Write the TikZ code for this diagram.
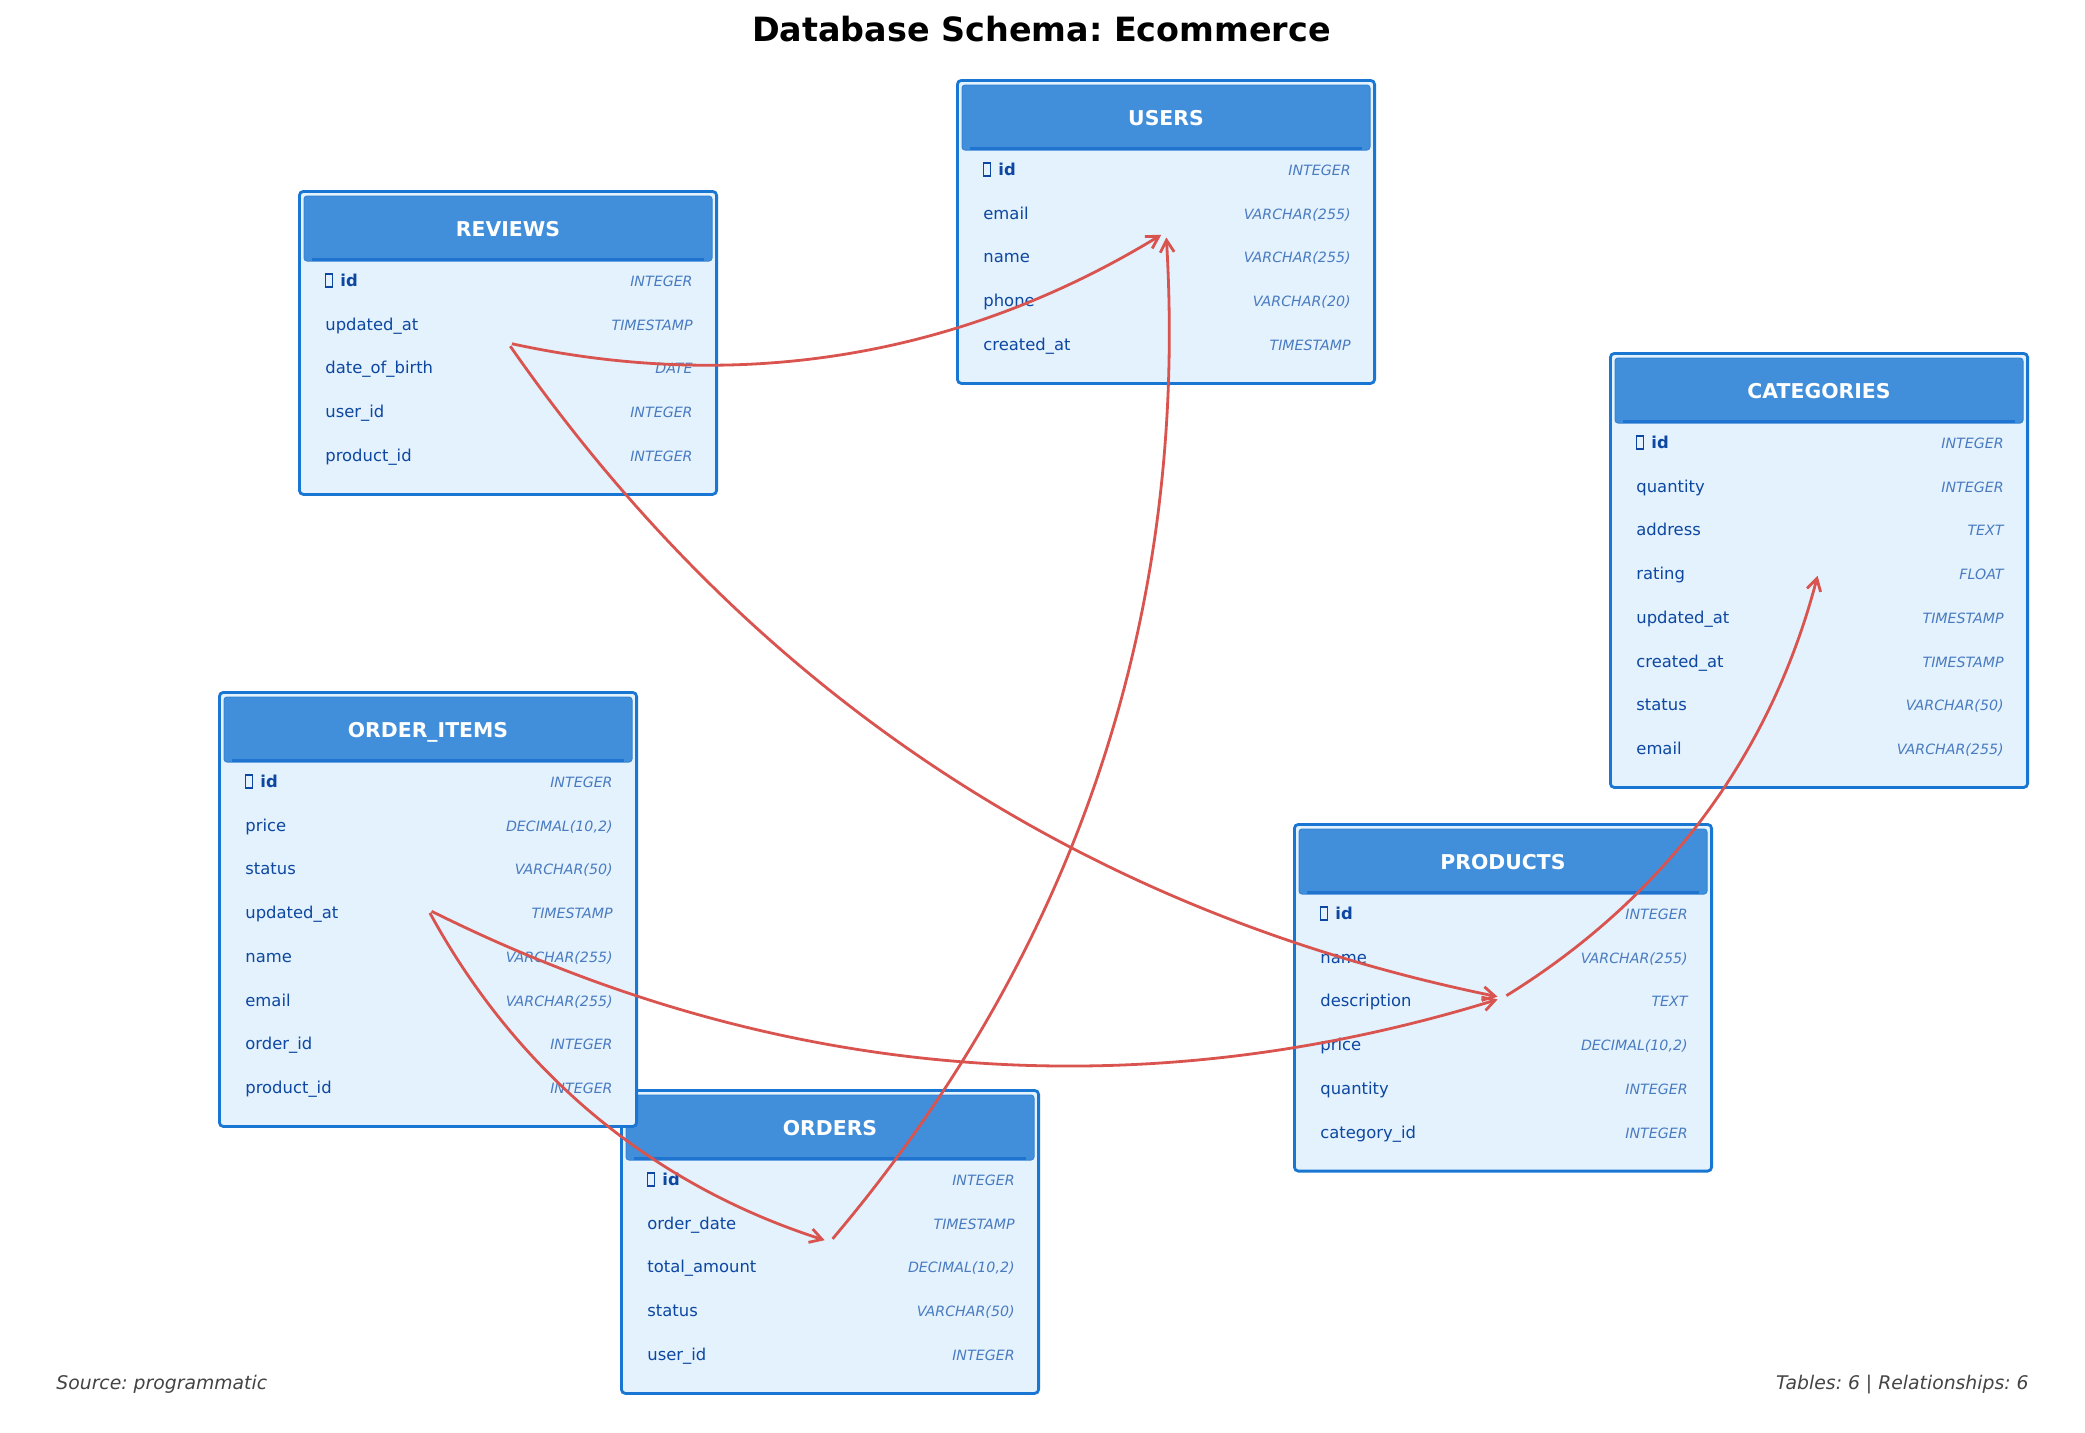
\documentclass[tikz,border=0pt]{standalone}
\usepackage{fontspec}
\setmainfont{DejaVu Sans}
\usetikzlibrary{arrows.meta,calc}
\frenchspacing
\definecolor{tabborder}{HTML}{1976D2}
\definecolor{tabfill}{HTML}{E3F2FD}
\definecolor{hdcol}{HTML}{418FDA}
\definecolor{hdedge}{HTML}{3584D6}
\definecolor{hdline}{HTML}{1F74CF}
\definecolor{fieldcol}{HTML}{0D47A1}
\definecolor{typecol}{HTML}{4A7BC0}
\definecolor{relcol}{HTML}{D9534F}
\definecolor{footcol}{HTML}{444444}
\tikzset{
  tablebox/.style={draw=tabborder, fill=tabfill, line width=1.4pt, rounded corners=2pt,
    minimum width=208.6pt, inner sep=0pt},
  headrect/.style={fill=hdcol, draw=hdedge, line width=0.5pt, rounded corners=1.5pt},
  headline/.style={draw=hdline, line width=1.2pt},
  headtext/.style={text=white, font=\fontsize{10.2pt}{12pt}\selectfont\bfseries, inner sep=0pt},
  keybox/.style={draw=fieldcol, line width=0.55pt},
  idtext/.style={text=fieldcol, font=\fontsize{8.2pt}{10pt}\selectfont\bfseries, inner sep=0pt},
  fieldtext/.style={text=fieldcol, font=\fontsize{8.2pt}{10pt}\selectfont, inner sep=0pt},
  typetext/.style={text=typecol, font=\fontsize{7.1pt}{8pt}\selectfont\itshape, inner sep=0pt},
  rel/.style={draw=relcol, line width=1.4pt, -{Straight Barb[length=6pt,width=7pt]},
    shorten >=2.8pt, shorten <=2pt, bend right=21.8, looseness=0.917},
  foot/.style={text=footcol, font=\fontsize{9.4pt}{11pt}\selectfont\itshape, inner sep=0pt},
  titletext/.style={text=black, font=\fontsize{16.7pt}{19pt}\selectfont\bfseries, inner sep=0pt}
}
% #1 name, #2 left, #3 top, #4 number of rows, #5 title
\newcommand\erdtable[5]{%
  \pgfmathsetmacro\erdh{(131+(#4-1)*43.7)*0.5-1.4}%
  \node[tablebox, minimum height=\erdh pt, anchor=north west] (#1) at (#2,#3) {};
  \path[headrect] ($(#1.north west)+(6,6)$) rectangle ($(#1.north east)+(-6,71)$);
  \draw[headline] ($(#1.north west)+(14,69.5)$) -- ($(#1.north east)+(-14,69.5)$);
  \node[headtext, anchor=base] (#1-title) at ($(#1.north)+(0,46)$) {#5};
  \draw[keybox] ($(#1.north west)+(27.5,84)$) rectangle ($(#1.north west)+(34.5,97)$);
  \node[idtext, anchor=base west] (#1-id) at ($(#1.north west)+(42,96.5)$) {id};
  \node[typetext, anchor=base east] (#1-idtype) at ($(#1.north west)+(395,96.5)$) {INTEGER};
}
% #1 name, #2 list field/type
\newcommand\erdrows[2]{%
  \foreach \f/\t [count=\i from 2] in {#2} {
    \node[fieldtext, anchor=base west] (#1-f\i) at ($(#1.north west)+(27,{96.5+(\i-1)*43.7})$) {\f};
    \node[typetext, anchor=base east] (#1-t\i) at ($(#1.north west)+(395,{96.5+(\i-1)*43.7})$) {\t};
  }%
}
\begin{document}
\begin{tikzpicture}[x=0.5pt,y=-0.5pt]
\useasboundingbox[fill=white] (0,0) rectangle (2085,1432);

\node[titletext, anchor=base] (title) at (1041.5,41) {Database Schema: Ecommerce};

\erdtable{reviews}{298}{190}{5}{REVIEWS}
\erdrows{reviews}{updated\_at/TIMESTAMP, date\_of\_birth/DATE, user\_id/INTEGER, product\_id/INTEGER}

\erdtable{users}{956}{79}{5}{USERS}
\erdrows{users}{email/VARCHAR(255), name/VARCHAR(255), phone/VARCHAR(20), created\_at/TIMESTAMP}

\erdtable{categories}{1609}{352}{8}{CATEGORIES}
\erdrows{categories}{quantity/INTEGER, address/TEXT, rating/FLOAT, updated\_at/TIMESTAMP, created\_at/TIMESTAMP, status/VARCHAR(50), email/VARCHAR(255)}

\erdtable{products}{1293}{823}{6}{PRODUCTS}
\erdrows{products}{name/VARCHAR(255), description/TEXT, {price/DECIMAL(10,2)}, quantity/INTEGER, category\_id/INTEGER}

\erdtable{orders}{620}{1089}{5}{ORDERS}
\erdrows{orders}{order\_date/TIMESTAMP, {total\_amount/DECIMAL(10,2)}, status/VARCHAR(50), user\_id/INTEGER}

\erdtable{orderitems}{218}{691}{8}{ORDER\_ITEMS}
\erdrows{orderitems}{{price/DECIMAL(10,2)}, status/VARCHAR(50), updated\_at/TIMESTAMP, name/VARCHAR(255), email/VARCHAR(255), order\_id/INTEGER, product\_id/INTEGER}

\draw[rel] (reviews.center) to (users.center);
\draw[rel] (reviews.center) to (products.center);
\draw[rel] (orderitems.center) to (orders.center);
\draw[rel] (orderitems.center) to (products.center);
\draw[rel] (orders.center) to (users.center);
\draw[rel] (products.center) to (categories.center);

\node[foot, anchor=base west] (source) at (56,1389) {Source: programmatic};
\node[foot, anchor=base east] (stats) at (2029,1389) {Tables: 6 | Relationships: 6};
\end{tikzpicture}
\end{document}
